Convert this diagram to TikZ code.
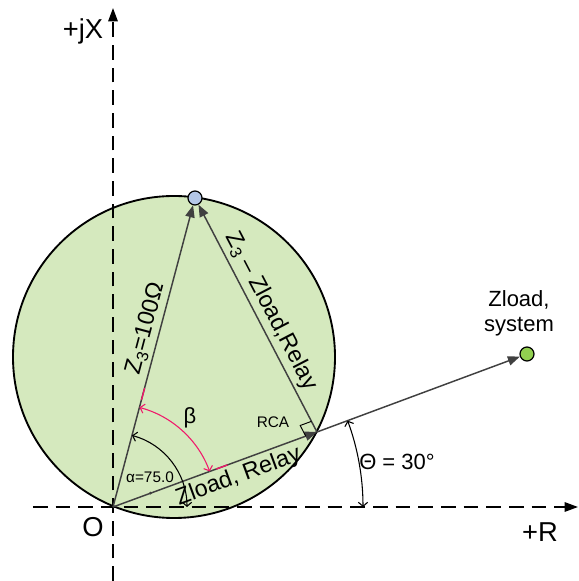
\documentclass[tikz,border=0pt]{standalone}
\usepackage{fontspec}
\setmainfont{Liberation Sans}
\usetikzlibrary{arrows.meta,calc}
\definecolor{g1}{HTML}{D5E9BE}
\definecolor{g2}{HTML}{92D050}
\definecolor{b1}{HTML}{B4C7E7}
\definecolor{r1}{HTML}{F0186A}
\definecolor{k1}{HTML}{404040}

\begin{document}
\begin{tikzpicture}[x=0.75pt,y=0.75pt,
  axis/.style={dash pattern=on 11pt off 6pt,line width=1.4pt,-{Triangle[length=10pt,width=7pt]}},
  vec/.style={k1,line width=1.1pt,-{Triangle[length=9pt,width=7pt]}},
  ang/.style={line width=0.8pt,{Straight Barb[length=3pt,width=7pt]}-{Straight Barb[length=3pt,width=7pt]}},
  dot/.style={circle,draw,line width=0.9pt,minimum size=10.5pt,inner sep=0pt},
  axlbl/.style={font=\fontsize{20.5}{23}\selectfont},
  lbl/.style={font=\fontsize{16.5}{19}\selectfont},
  vlbl/.style={font=\fontsize{17.5}{20}\selectfont,text=black,sloped,inner sep=2.5pt},
  sml/.style={font=\fontsize{11.5}{13}\selectfont}]
\useasboundingbox (-113,-74) rectangle (465,507);
% circle
\fill[g1] (61,150) circle[radius=161];
\draw[line width=1.4pt] (61,150) circle[radius=161];
% axes
\coordinate (O) at (0,0);
\coordinate (ybot) at (0,-74);
\coordinate (ytop) at (0,499);
\coordinate (xl) at (-80,0);
\coordinate (xr) at (465,0);
\draw[axis] (ybot) -- (ytop);
\draw[axis] (xl) -- (xr);
\node[axlbl] (jx) at (-30,476) {+jX};
\node[axlbl] (rr) at (427,-25) {+R};
\node[axlbl] (oo) at (-20,-20) {O};
% points
\coordinate (P) at (204,75);
\node[dot,fill=b1] (T) at (82,309) {};
\node[dot,fill=g2] (S) at (414,153) {};
\node[lbl,align=center] (zs) at (406,194) {Zload,\\system};
% vectors
\draw[vec] (O) -- node[vlbl,above,pos=0.58] {Z\textsubscript{3}=100Ω} (T);
\draw[vec] (P) -- node[vlbl,above,pos=0.5] {Z\textsubscript{3} – Zload,Relay} (T);
\draw[vec] (O) -- node[vlbl,below,pos=0.59] {Zload, Relay} (P);
\draw[vec] (P) -- (S);
% right angle
\coordinate (q1) at ($(P)!9pt!(O)$);
\coordinate (q2) at ($(P)!9pt!(T)$);
\draw[line width=0.7pt] (q1) -- ($(q1)+(q2)-(P)$) -- (q2);
\node[sml] (rca) at (160,85) {RCA};
% angles
\draw[ang] (0:74) arc[start angle=0,end angle=75.1,radius=74];
\draw[ang,r1] (20.2:103) arc[start angle=20.2,end angle=75.1,radius=103];
\draw[r1,line width=1pt] (75.1:111) -- (75.1:123);
\draw[r1,line width=1pt] (20.2:110) -- (20.2:122);
\draw[ang] (0:250) arc[start angle=0,end angle=20.2,radius=250];
\fill[k1] (20.2:40) circle[radius=1.5];
\node[lbl] (be) at (77,89) {β};
\node[sml] (al) at (37,30) {α=75.0};
\node[lbl] (th) at (284,45) {Θ = 30°};
\end{tikzpicture}
\end{document}
